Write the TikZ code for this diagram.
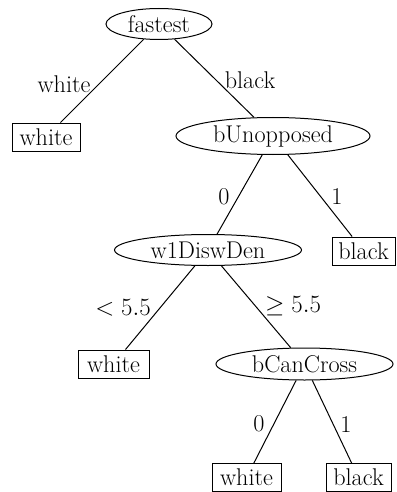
\documentclass[tikz,border=0pt]{standalone}
\usetikzlibrary{shapes.geometric}
\begin{document}
\begin{tikzpicture}[x=1pt,y=-1pt,
  every node/.style={font=\fontsize{24.2}{29}\selectfont, inner sep=0pt},
  dec/.style={draw, ellipse, line width=1pt},
  leaf/.style={draw, rectangle, line width=1pt, minimum height=28pt},
  lbl/.style={},
  edge/.style={line width=1pt}]
\useasboundingbox (0,0) rectangle (396,492);
\node[dec, minimum width=106pt, minimum height=31pt] (fastest) at (159,24) {fastest};
\node[leaf, minimum width=68pt] (w1) at (46,137) {white};
\node[dec, minimum width=194pt, minimum height=37pt] (bU) at (273,136) {bUnopposed};
\node[dec, minimum width=187pt, minimum height=31pt] (w1D) at (208,250) {w1DiswDen};
\node[leaf, minimum width=63pt] (b1) at (363.5,251) {black};
\node[leaf, minimum width=71pt] (w2) at (113.5,364) {white};
\node[dec, minimum width=177pt, minimum height=32pt] (bC) at (304.5,364) {bCanCross};
\node[leaf, minimum width=69pt] (w3) at (246.5,477.5) {white};
\node[leaf, minimum width=65pt] (b2) at (358.5,477.5) {black};
\draw[edge] (fastest) -- (w1);
\draw[edge] (fastest) -- (bU);
\draw[edge] (bU) -- (w1D);
\draw[edge] (bU) -- (b1);
\draw[edge] (w1D) -- (w2);
\draw[edge] (w1D) -- (bC);
\draw[edge] (bC) -- (w3);
\draw[edge] (bC) -- (b2);
\node[lbl] (l1) at (64,84) {white};
\node[lbl] (l2) at (250,80) {black};
\node[lbl] (l3) at (224,197) {0};
\node[lbl] (l4) at (337,197) {1};
\node[lbl] (l5) at (123,308) {$<5.5$};
\node[lbl] (l6) at (293,306) {$\geq 5.5$};
\node[lbl] (l7) at (259,424) {0};
\node[lbl] (l8) at (346,424) {1};
\end{tikzpicture}
\end{document}
